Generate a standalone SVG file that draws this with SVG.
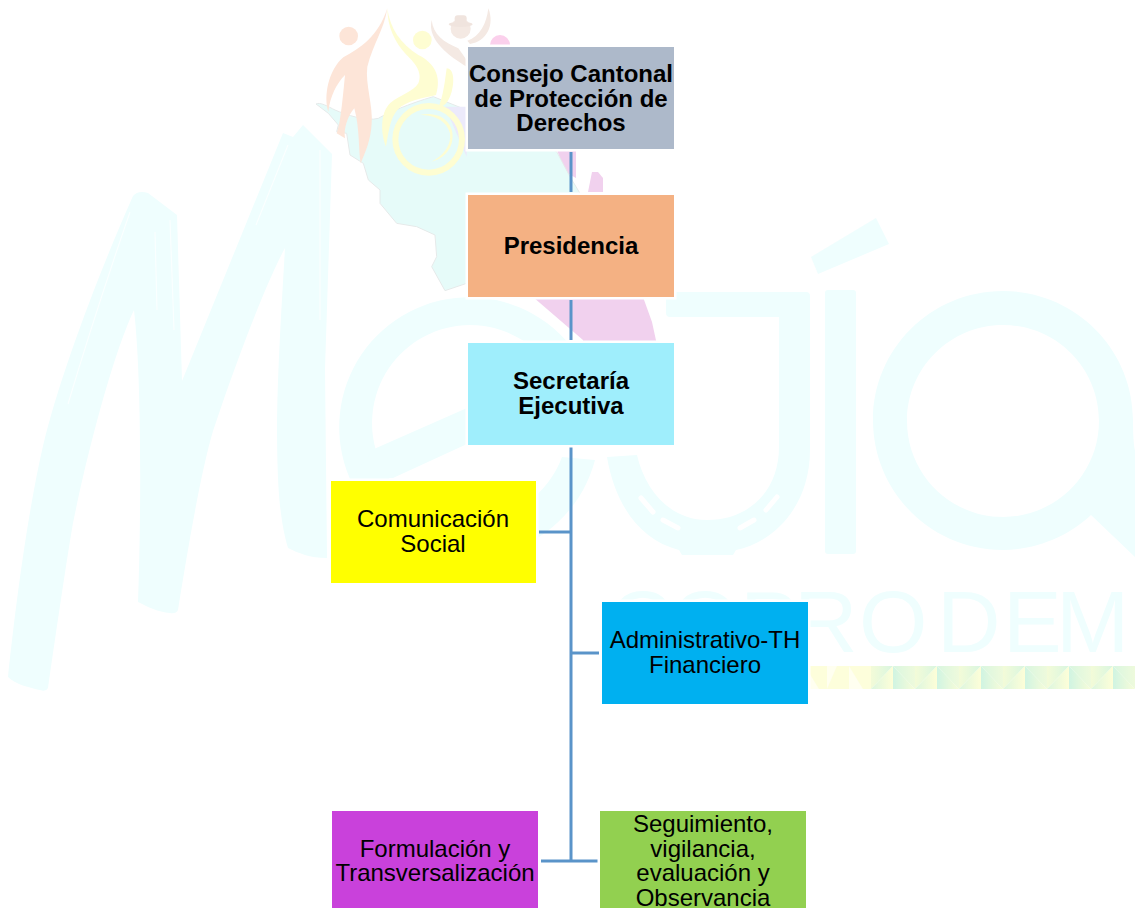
<svg xmlns="http://www.w3.org/2000/svg" width="1135" height="908" viewBox="0 0 1135 908">
<style>
.wm{fill:#effefe}
.map{fill:#e6fbf9;stroke:#e6eaea;stroke-width:3}
.peach{fill:#fde5d8}
.yel{fill:#fefdd2}
.brown{fill:#f4e9e3}
.pink{fill:#f1d1ee}
.conn{fill:none;stroke:#5a94c9;stroke-width:3}
.box{stroke:#fff;stroke-width:5;paint-order:stroke}
text{font-family:"Liberation Sans",Arial,sans-serif;font-size:24px;fill:#000;text-anchor:middle}
.b{font-weight:bold}
.streak{fill:none;stroke:#fff;stroke-width:1.2;opacity:.7}
</style>
<defs>
<linearGradient id="g1" x1="0" x2="1" y1="0" y2="0"><stop offset="0" stop-color="#f3fbd8"/><stop offset="1" stop-color="#d9f6e0"/></linearGradient>
<linearGradient id="g2" x1="0" x2="1" y1="0" y2="0"><stop offset="0" stop-color="#d0f4e2"/><stop offset="1" stop-color="#f7fcd8"/></linearGradient>
<linearGradient id="g3" x1="0" x2="1" y1="0" y2="0"><stop offset="0" stop-color="#dcf6df"/><stop offset="1" stop-color="#fdfed8"/></linearGradient>
<linearGradient id="g4" x1="0" x2="1" y1="0" y2="0"><stop offset="0" stop-color="#d9f6e0"/><stop offset="1" stop-color="#eefadc"/></linearGradient>
<pattern id="band" patternUnits="userSpaceOnUse" x="871" y="666" width="44" height="23">
<polygon points="0,0 22,0 0,23" fill="url(#g1)"/>
<polygon points="22,0 22,23 0,23" fill="url(#g3)"/>
<polygon points="22,0 22,23 44,23" fill="url(#g2)"/>
<polygon points="22,0 44,0 44,23" fill="url(#g4)"/>
</pattern>
<pattern id="bandpale" patternUnits="userSpaceOnUse" x="827" y="666" width="44" height="23">
<rect width="44" height="23" fill="#fdfedb"/>
<polygon points="22,0 22,23 36,23" fill="#fffff0"/>
<polygon points="0,0 10,0 0,23" fill="#fffff0"/>
</pattern>
</defs>
<rect width="1135" height="908" fill="#fff"/>
<g id="watermark">
<path class="wm" d="M8 677 C14 620 26 520 43 446 C60 375 100 270 133 196 Q138 190 148 193 L177 215 L182 381 L283 133 L293 137 L303 125 L332 154 L325 369 L327 558 C310 558 298 553 288 548 C280 520 277 490 277 420 C278 360 282 300 285 248 C265 285 235 365 213 431 C200 475 186 560 178 610 Q176 614 170 613 C158 612 148 607 138 602 C141 520 142 380 134 310 C115 350 90 440 73 523 C65 570 55 640 48 688 Q46 692 40 690 C30 688 15 684 8 677 Z"/>
<path class="streak" d="M68 404 C90 330 110 270 130 212 M155 232 L157 310 M170 220 L174 330 M256 225 L288 145 M320 150 L320 320"/>
<path class="wm" d="M595 460 A130 130 0 1 1 599 420 L568 420 A98 98 0 1 0 562 457 Z"/>
<polygon class="wm" points="374,449 467,408 590,355 590,400 467,444 393,478 351,478"/>
<path class="wm" d="M666 296 Q666 292 670 292 H806 Q810 292 810 296 V450 C810 505 775 542 736 550 L733 555 H682 L679 550 C640 540 615 505 607 457 L637 455 C645 490 670 520 707 520 C750 520 779 490 779 447 V317 H670 Q666 317 666 313 Z"/>
<path d="M641 498 L653 512 M663 520 L678 528 M740 528 L754 520 M766 510 L777 497" stroke="#fff" stroke-width="5" stroke-linecap="round" fill="none"/>
<rect class="wm" x="825" y="290" width="31" height="264" rx="3"/>
<polygon class="wm" points="811,257 876,218 889,244 818,274"/>
<path class="wm" fill-rule="evenodd" d="M1003 291 C1075 291 1133 349 1133 420 C1133 445 1135 450 1135 450 V557 L1091 515 C1070 535 1037 550 1003 550 C931 550 873 492 873 420 C873 349 931 291 1003 291 Z M1003 325 C950 325 907 368 907 421 C907 474 950 517 1003 517 C1056 517 1099 474 1099 421 C1099 368 1056 325 1003 325 Z"/>
<text x="609 671 740 794 859 937 1003 1056" y="652" style="font-size:88px;fill:#effefe;text-anchor:start">COPRODEM</text>
<rect x="808" y="666" width="63" height="23" fill="url(#bandpale)"/>
<rect x="871" y="666" width="264" height="23" fill="url(#band)"/>
<polygon class="pink" points="533,297 583,340 583,345 657,345 652,322 643,297"/>
<polygon class="pink" points="588,192 592,172 598,172 603,178 603,192"/>
<polygon class="pink" points="557,150 576,150 576,178 565,172"/>
<circle cx="500" cy="45" r="10" fill="#fbd0ec"/>
<g transform="translate(300,0) scale(.33333)">
<path class="map" d="M48 312 C60 305 85 320 105 330 C140 345 200 365 235 355 C260 340 330 310 400 290 L500 330 L770 455 L810 530 L840 580 L700 890 L500 850 L435 872 L395 800 L410 770 L405 705 L350 680 L290 670 L240 610 L240 570 L205 540 L190 490 L150 465 L140 400 L110 395 L115 375 L85 340 Z"/>
</g>
<g transform="translate(310,0) scale(.33333)">
<path d="M405 320 L470 320 L470 470 Z" fill="#eceafb"/>
<path class="peach" d="M232 25 C222 90 190 130 172 200 C165 250 190 320 185 370 C183 420 165 460 152 490 C145 450 150 390 133 325 C115 345 100 385 105 415 L80 400 C90 370 95 330 105 225 C80 250 60 290 55 335 C40 290 55 210 100 172 C150 145 205 110 232 25 Z"/>
<circle class="peach" cx="116" cy="108" r="28"/>
<path class="yel" d="M232 25 C240 85 270 130 325 165 C375 190 395 230 378 285 C340 295 290 300 262 330 C240 355 235 400 228 440 C212 400 210 340 240 310 C270 285 310 275 325 250 C340 215 310 185 290 165 C255 130 232 80 232 25 Z"/>
<circle class="yel" cx="337" cy="120" r="28"/>
<path class="yel" d="M410 205 C430 205 435 240 425 275 C415 310 400 320 385 322 C400 290 405 240 410 205 Z"/>
<circle cx="356" cy="418" r="100" fill="none" stroke="#fefdd2" stroke-width="18"/>
<path class="yel" d="M330 345 C400 330 440 380 425 430 C415 465 385 480 365 485 C395 470 425 440 420 400 C410 360 370 345 330 345 Z"/>
<path class="brown" d="M365 60 C370 105 400 125 445 145 L470 180 L470 200 C420 170 350 120 365 60 Z"/>
<path class="brown" d="M535 25 C555 75 530 125 480 132 L472 122 C510 110 530 70 535 25 Z"/>
<circle class="brown" cx="452" cy="86" r="30"/>
<ellipse cx="452" cy="73" rx="36" ry="8" fill="#f0e4de"/>
<rect x="434" y="46" width="36" height="26" rx="9" fill="#f0e4de"/>
</g>
</g>
<g id="connectors">
<path class="conn" d="M571 152 V192"/>
<path class="conn" d="M571 300 V340"/>
<path class="conn" d="M571 447 V861"/>
<path class="conn" d="M539 532 H571"/>
<path class="conn" d="M571 653 H599"/>
<path class="conn" d="M541 861 H598"/>
</g>
<g id="node-consejo"><rect class="box" x="468" y="47" width="206" height="102" fill="#adb9ca"/>
<text class="b" x="571" y="82">Consejo Cantonal</text><text class="b" x="571" y="107">de Protección de</text><text class="b" x="571" y="131">Derechos</text></g>
<g id="node-presidencia"><rect class="box" x="468" y="195" width="206" height="102" fill="#f4b183"/>
<text class="b" x="571" y="254">Presidencia</text></g>
<g id="node-secretaria"><rect class="box" x="468" y="343" width="206" height="102" fill="#9feefc"/>
<text class="b" x="571" y="389">Secretaría</text><text class="b" x="571" y="414">Ejecutiva</text></g>
<g id="node-comunicacion"><rect class="box" x="331" y="481" width="205" height="102" fill="#ffff00"/>
<text x="433" y="527">Comunicación</text><text x="433" y="552">Social</text></g>
<g id="node-administrativo"><rect class="box" x="602" y="602" width="206" height="102" fill="#00b0f0"/>
<text x="705" y="648">Administrativo-TH</text><text x="705" y="673">Financiero</text></g>
<g id="node-formulacion"><rect class="box" x="332" y="811" width="206" height="102" fill="#c941db"/>
<text x="435" y="857">Formulación y</text><text x="435" y="881">Transversalización</text></g>
<g id="node-seguimiento"><rect class="box" x="600" y="811" width="206" height="102" fill="#92d050"/>
<text x="703" y="832">Seguimiento,</text><text x="703" y="857">vigilancia,</text><text x="703" y="881">evaluación y</text><text x="703" y="906">Observancia</text></g>
</svg>
